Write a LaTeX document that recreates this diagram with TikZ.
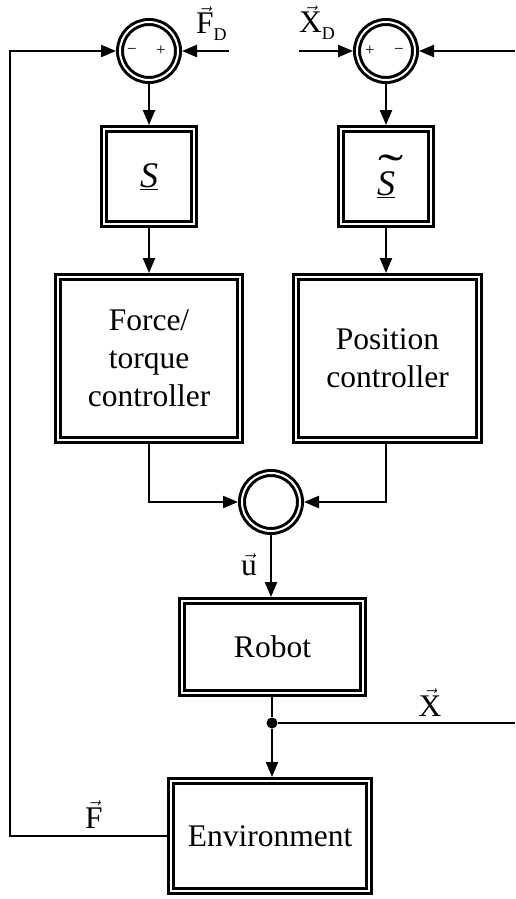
\documentclass[tikz,border=0pt]{standalone}
\usepackage{fontspec}
\setmainfont{Liberation Serif}
\usetikzlibrary{arrows.meta}
\newcommand{\vecx}[1]{\ensuremath{\vec{\hbox{#1}}}}
\newcommand{\tildeS}{\rlap{\hspace{1pt}\raisebox{9pt}{\scalebox{2.1}[1.3]{\upshape\char"02DC}}}S}
\begin{document}
\begin{tikzpicture}[x=1pt,y=-1pt,
  every node/.style={font=\fontsize{31.5}{38}\selectfont},
  dbox/.style={draw, line width=3pt, double, double distance=2pt, inner sep=0pt, outer sep=4pt, align=center},
  dcirc/.style={circle, draw, line width=3pt, double, double distance=2pt, inner sep=0pt, outer sep=4pt, minimum size=58pt},
  conn/.style={line width=2.2pt},
  arr/.style={conn, -{Triangle[length=15pt,width=12pt]}},
  lbl/.style={inner sep=0pt},
  sgn/.style={inner sep=0pt, font=\fontsize{17}{17}\selectfont}
]
\useasboundingbox (0,0) rectangle (515,899);

% summing junctions
\node[dcirc] (sumF) at (149,51) {};
\node[dcirc] (sumX) at (386,51) {};
\node[dcirc] (sumU) at (271,502) {};

% boxes
\node[dbox, minimum width=90pt, minimum height=95pt] (S) at (149,176.5)
  {\fontsize{36}{40}\selectfont\itshape\underline{S}};
\node[dbox, minimum width=90pt, minimum height=95pt] (St) at (386,176.5)
  {\fontsize{36}{40}\selectfont\itshape\underline{\tildeS}};
\node[dbox, minimum width=182pt, minimum height=163pt] (FC) at (149,358.5)
  {Force/\\torque\\controller};
\node[dbox, minimum width=183pt, minimum height=163pt] (PC) at (387.5,358.5)
  {Position\\controller};
\node[dbox, minimum width=181pt, minimum height=92pt] (Rob) at (272.5,647) {Robot};
\node[dbox, minimum width=198pt, minimum height=110pt] (Env) at (270,836) {Environment};

% signs
\node[sgn] (s1) at (132,51) {\char"2212};
\node[sgn] (s2) at (161,51) {+};
\node[sgn] (s3) at (370,51) {+};
\node[sgn] (s4) at (399,51) {\char"2212};

% free ends
\coordinate (fdin) at (229,51);
\coordinate (xdin) at (299,51);
\coordinate (xfb) at (515,51);
\coordinate (xout) at (515,723);
\coordinate (fl) at (10,836);
\node[circle, fill, inner sep=0pt, minimum size=11pt] (dot) at (272,723) {};

% connectors
\draw[arr] (fdin) -- (sumF.east);
\draw[arr] (xdin) -- (sumX.west);
\draw[arr] (xfb) -- (sumX.east);
\draw[arr] (sumF.south) -- (S.north);
\draw[arr] (S.south) -- (FC.north);
\draw[arr] (sumX.south) -- (St.north);
\draw[arr] (St.south) -- (St.south |- PC.north);
\draw[arr] (FC.south) |- (sumU.west);
\draw[arr] (sumX.south |- PC.south) |- (sumU.east);
\draw[arr] (sumU.south) -- (sumU.south |- Rob.north);
\draw[conn] (Rob.south -| dot) -- (dot);
\draw[conn] (dot) -- (xout);
\draw[arr] (dot) -- (dot |- Env.north);
\draw[arr] (Env.west) -- (fl) |- (sumF.west);

% labels
\node[lbl, anchor=base west] (lFD) at (196,34) {\vecx{F}\raisebox{-7pt}{\fontsize{18}{18}\selectfont D}};
\node[lbl, anchor=base west] (lXD) at (299,33) {\vecx{X}\raisebox{-7pt}{\fontsize{18}{18}\selectfont D}};
\node[lbl, anchor=base] (lu) at (249,575) {\vecx{u}};
\node[lbl, anchor=base] (lX) at (430,716) {\vecx{X}};
\node[lbl, anchor=base] (lF) at (94,828) {\vecx{F}};
\end{tikzpicture}
\end{document}
